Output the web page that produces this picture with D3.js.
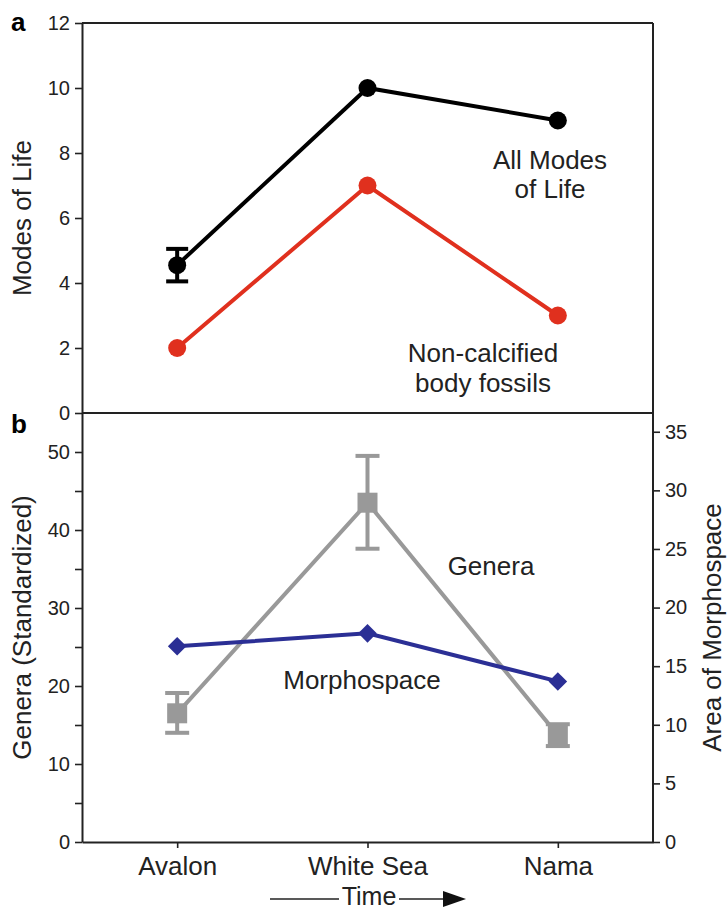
<!DOCTYPE html>
<html><head><meta charset="utf-8">
<script src="https://cdn.jsdelivr.net/npm/d3@7"></script>
<style>
body{margin:0;background:#fff;}
text{font-family:"Liberation Sans",Arial,Helvetica,sans-serif;}
</style></head>
<body><svg id="c" width="727" height="918"></svg>
<script>
const categories = ["Avalon", "White Sea", "Nama"];
const allModes = [4.55, 10, 9];
const allModesErr = [0.5, 0, 0];
const nonCalcified = [2, 7, 3];
const genera = [16.5, 43.5, 13.7];
const generaLow = [14.0, 37.6, 12.3];
const generaHigh = [19.1, 49.5, 15.1];
const morphospace = [16.7, 17.8, 13.7];
const modesTicks = [0, 2, 4, 6, 8, 10, 12];
const generaTicks = [0, 10, 20, 30, 40, 50];
const generaMinorTicks = [5, 15, 25, 35, 45];
const areaTicks = [0, 5, 10, 15, 20, 25, 30, 35];

const L = 82, R = 653, T = 23, M = 413, B = 842;
const svg = d3.select("#c");
const x = d3.scalePoint().domain(categories).range([L, R]).padding(0.5);
const ya = d3.scaleLinear().domain([0, 12]).range([M, T]);
const yb = d3.scaleLinear().domain([0, 55]).range([B, M]);
const yr = d3.scaleLinear().domain([0, 36.6]).range([B, M]);

const AX = "#222", TXT = "#222";
const BLACK = "#000", RED = "#e0301e", GRAY = "#999999", BLUE = "#2b2f95";
const FS = "26px";

function styleAxis(g) {
  g.select(".domain").attr("stroke", AX).attr("stroke-width", 2);
  g.selectAll(".tick line").attr("stroke", AX).attr("stroke-width", 1.6);
  g.selectAll(".tick text").attr("fill", TXT).style("font-size", "20px");
}

// frame
svg.append("line").attr("x1", L).attr("x2", R).attr("y1", T).attr("y2", T).attr("stroke", AX).attr("stroke-width", 2);
svg.append("line").attr("x1", L).attr("x2", R).attr("y1", M).attr("y2", M).attr("stroke", AX).attr("stroke-width", 2);

// panel a axis
svg.append("g").attr("transform", `translate(${L},0)`)
  .call(d3.axisLeft(ya).tickValues(modesTicks).tickSize(7).tickSizeOuter(0).tickPadding(5))
  .call(styleAxis);

// panel b left axis
svg.append("g").attr("transform", `translate(${L},0)`)
  .call(d3.axisLeft(yb).tickValues(generaTicks).tickSize(7).tickSizeOuter(0).tickPadding(5))
  .call(styleAxis);
svg.append("g").attr("transform", `translate(${L},0)`)
  .call(d3.axisLeft(yb).tickValues(generaMinorTicks).tickSize(7).tickSizeOuter(0).tickFormat(""))
  .call(g => { g.select(".domain").remove(); g.selectAll(".tick line").attr("stroke", AX).attr("stroke-width", 1.6); });

// right axis (full height)
svg.append("line").attr("x1", R).attr("x2", R).attr("y1", T).attr("y2", B).attr("stroke", AX).attr("stroke-width", 2);
svg.append("g").attr("transform", `translate(${R},0)`)
  .call(d3.axisRight(yr).tickValues(areaTicks).tickSize(7).tickSizeOuter(0).tickPadding(5))
  .call(styleAxis).call(g => g.select(".domain").remove());

// bottom axis
svg.append("g").attr("transform", `translate(0,${B})`)
  .call(d3.axisBottom(x).tickSize(6).tickSizeOuter(0).tickPadding(9))
  .call(styleAxis)
  .call(g => g.selectAll(".tick text").style("font-size", FS).attr("dy", "0.71em"));

// axis labels
svg.append("text").attr("transform", `translate(31,${(T + M) / 2}) rotate(-90)`)
  .attr("text-anchor", "middle").style("font-size", FS).attr("fill", TXT).text("Modes of Life");
svg.append("text").attr("transform", `translate(31,${(M + B) / 2}) rotate(-90)`)
  .attr("text-anchor", "middle").style("font-size", FS).attr("fill", TXT).text("Genera (Standardized)");
svg.append("text").attr("transform", `translate(721,${(M + B) / 2}) rotate(-90)`)
  .attr("text-anchor", "middle").style("font-size", FS).attr("fill", TXT).text("Area of Morphospace");

// panel letters
svg.append("text").attr("x", 11).attr("y", 31).style("font-size", "26px").style("font-weight", "bold").text("a");
svg.append("text").attr("x", 11).attr("y", 433).style("font-size", "26px").style("font-weight", "bold").text("b");

// Time arrow
svg.append("text").attr("x", 369).attr("y", 905).attr("text-anchor", "middle").style("font-size", "25px").attr("fill", TXT).text("Time");
svg.append("line").attr("x1", 270).attr("x2", 339).attr("y1", 899).attr("y2", 899).attr("stroke", "#222").attr("stroke-width", 1.5);
svg.append("line").attr("x1", 399).attr("x2", 446).attr("y1", 899).attr("y2", 899).attr("stroke", "#222").attr("stroke-width", 1.5);
svg.append("path").attr("d", "M443,891 L466,899 L443,907 Z").attr("fill", "#111");

// ----- panel a data
const lineA = d3.line().x((d, i) => x(categories[i])).y(d => ya(d));
svg.append("path").datum(nonCalcified).attr("d", lineA).attr("fill", "none").attr("stroke", RED).attr("stroke-width", 4);
svg.append("path").datum(allModes).attr("d", lineA).attr("fill", "none").attr("stroke", BLACK).attr("stroke-width", 4);
allModes.forEach((v, i) => {
  const e = allModesErr[i];
  if (!e) return;
  const cx = x(categories[i]);
  svg.append("line").attr("x1", cx).attr("x2", cx).attr("y1", ya(v - e)).attr("y2", ya(v + e)).attr("stroke", BLACK).attr("stroke-width", 4);
  [v - e, v + e].forEach(w => svg.append("line").attr("x1", cx - 11).attr("x2", cx + 11).attr("y1", ya(w)).attr("y2", ya(w)).attr("stroke", BLACK).attr("stroke-width", 4));
});
svg.selectAll(".dotR").data(nonCalcified).enter().append("circle")
  .attr("cx", (d, i) => x(categories[i])).attr("cy", d => ya(d)).attr("r", 9).attr("fill", RED);
svg.selectAll(".dotK").data(allModes).enter().append("circle")
  .attr("cx", (d, i) => x(categories[i])).attr("cy", d => ya(d)).attr("r", 9).attr("fill", BLACK);

svg.append("text").attr("x", 550).attr("y", 169).attr("text-anchor", "middle").style("font-size", FS).attr("fill", TXT).text("All Modes");
svg.append("text").attr("x", 550).attr("y", 198).attr("text-anchor", "middle").style("font-size", FS).attr("fill", TXT).text("of Life");
svg.append("text").attr("x", 483).attr("y", 362).attr("text-anchor", "middle").style("font-size", FS).attr("fill", TXT).text("Non-calcified");
svg.append("text").attr("x", 483).attr("y", 392).attr("text-anchor", "middle").style("font-size", FS).attr("fill", TXT).text("body fossils");

// ----- panel b data
const lineG = d3.line().x((d, i) => x(categories[i])).y(d => yb(d));
svg.append("path").datum(genera).attr("d", lineG).attr("fill", "none").attr("stroke", GRAY).attr("stroke-width", 4);
genera.forEach((v, i) => {
  const cx = x(categories[i]);
  svg.append("line").attr("x1", cx).attr("x2", cx).attr("y1", yb(generaLow[i])).attr("y2", yb(generaHigh[i])).attr("stroke", GRAY).attr("stroke-width", 4);
  [generaLow[i], generaHigh[i]].forEach(w => svg.append("line").attr("x1", cx - 12).attr("x2", cx + 12).attr("y1", yb(w)).attr("y2", yb(w)).attr("stroke", GRAY).attr("stroke-width", 4));
  svg.append("rect").attr("x", cx - 10).attr("y", yb(v) - 10).attr("width", 20).attr("height", 20).attr("fill", GRAY);
});
const lineM = d3.line().x((d, i) => x(categories[i])).y(d => yr(d));
svg.append("path").datum(morphospace).attr("d", lineM).attr("fill", "none").attr("stroke", BLUE).attr("stroke-width", 4);
svg.selectAll(".dia").data(morphospace).enter().append("path")
  .attr("d", d3.symbol(d3.symbolDiamond2, 220))
  .attr("transform", (d, i) => `translate(${x(categories[i])},${yr(d)})`)
  .attr("fill", BLUE);

svg.append("text").attr("x", 491).attr("y", 575).attr("text-anchor", "middle").style("font-size", FS).attr("fill", TXT).text("Genera");
svg.append("text").attr("x", 362).attr("y", 689).attr("text-anchor", "middle").style("font-size", FS).attr("fill", TXT).text("Morphospace");
</script></body></html>
